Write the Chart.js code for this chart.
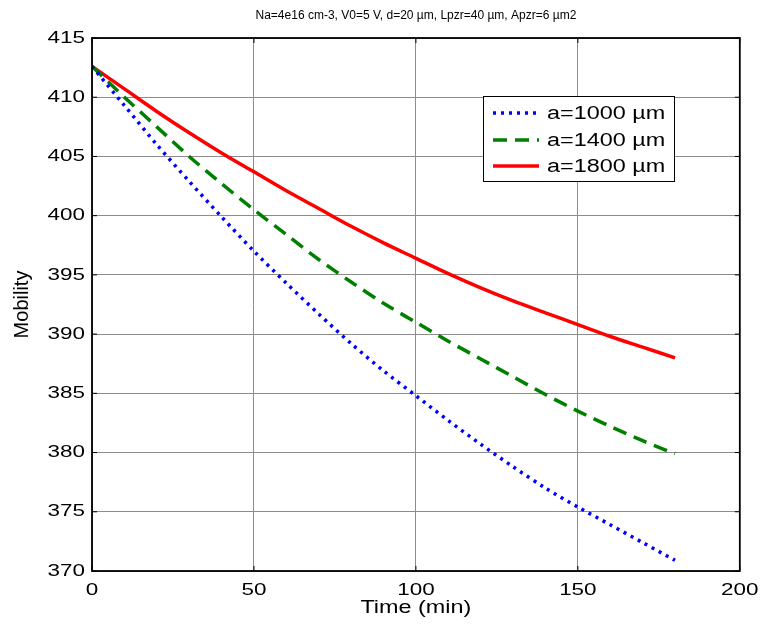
<!DOCTYPE html>
<html>
<head>
<meta charset="utf-8">
<script src="https://cdn.jsdelivr.net/npm/chart.js@4"></script>
<style>
html,body{margin:0;padding:0;background:#fff;}
canvas{display:block;}
</style>
</head>
<body>
<canvas id="c" width="763" height="625"></canvas>
<script>
const titleText = "Na=4e16 cm-3, V0=5 V, d=20 \u00b5m, Lpzr=40 \u00b5m, Apzr=6 \u00b5m2";
const timeMin = [0,10,20,30,40,50,60,70,80,90,100,110,120,130,140,150,160,170,180];
const mob1000 = [412.6,409.3,406.0,402.9,399.9,397.0,394.3,391.7,389.2,386.9,384.8,382.7,380.7,378.8,377.0,375.4,373.9,372.4,370.9];
const mob1400 = [412.6,410.0,407.5,405.0,402.7,400.5,398.4,396.3,394.4,392.6,391.0,389.4,387.9,386.4,384.9,383.5,382.2,381.0,379.9];
const mob1800 = [412.6,410.7,408.8,407.0,405.3,403.7,402.1,400.6,399.1,397.7,396.4,395.1,393.9,392.8,391.8,390.8,389.8,388.9,388.0];
const seriesLabels = ["a=1000 \u00b5m","a=1400 \u00b5m","a=1800 \u00b5m"];
const xTicks = [0,50,100,150,200];
const yTicks = [370,375,380,385,390,395,400,405,410,415];

const FONT = "'Liberation Sans', Arial, sans-serif";
function pts(ys){ return timeMin.map((x,i)=>({x:x,y:ys[i]})); }

// horizontal stretch of text, keyed by font size (mimics the reference's wide glyphs)
const STRETCH = {'17px':1.32, '18px':1.3};
const stretchText = {
  id:'stretchText',
  beforeInit(chart){
    const ctx = chart.ctx;
    if (ctx.__patched) return;
    const orig = ctx.fillText.bind(ctx);
    ctx.__orig = orig;
    ctx.fillText = function(text, x, y){
      const m = /(\d+)px/.exec(ctx.font);
      const k = m ? (STRETCH[m[1]+'px'] || 1) : 1;
      if (k === 1) return orig(text, x, y);
      ctx.save();
      ctx.translate(x, y);
      ctx.scale(k, 1);
      orig(text, 0, 0);
      ctx.restore();
    };
    ctx.__patched = true;
  }
};

const frame = {
  id:'frame',
  afterDatasetsDraw(chart){
    const {ctx, chartArea:a, scales} = chart;
    ctx.save();
    ctx.strokeStyle = '#000';
    ctx.lineWidth = 1.8;
    ctx.strokeRect(a.left, a.top, a.right-a.left, a.bottom-a.top);
    ctx.lineWidth = 1;
    const tl = 5;
    xTicks.forEach(v=>{
      const x = scales.x.getPixelForValue(v);
      ctx.beginPath();
      ctx.moveTo(x,a.bottom); ctx.lineTo(x,a.bottom-tl);
      ctx.moveTo(x,a.top); ctx.lineTo(x,a.top+tl);
      ctx.stroke();
    });
    yTicks.forEach(v=>{
      const y = scales.y.getPixelForValue(v);
      ctx.beginPath();
      ctx.moveTo(a.left,y); ctx.lineTo(a.left+tl,y);
      ctx.moveTo(a.right,y); ctx.lineTo(a.right-tl,y);
      ctx.stroke();
    });
    // title
    ctx.fillStyle = '#000';
    ctx.font = "12px " + FONT;
    ctx.textAlign = 'center';
    ctx.textBaseline = 'middle';
    ctx.fillText(titleText, (a.left+a.right)/2, 16);
    // legend
    const bx = 483, by = 96, bw = 191, bh = 85;
    ctx.fillStyle = '#fff';
    ctx.fillRect(bx,by,bw,bh);
    ctx.strokeStyle = '#000';
    ctx.lineWidth = 1;
    ctx.strokeRect(bx+0.5,by+0.5,bw,bh);
    const rows = [113,140,166];
    chart.data.datasets.forEach((ds,i)=>{
      const y = rows[i];
      ctx.save();
      ctx.strokeStyle = ds.borderColor;
      ctx.lineWidth = ds.borderWidth;
      ctx.setLineDash(ds.borderDash || []);
      ctx.beginPath();
      ctx.moveTo(493,y); ctx.lineTo(539,y);
      ctx.stroke();
      ctx.restore();
      ctx.fillStyle = '#000';
      ctx.font = "18px " + FONT;
      ctx.textAlign = 'left';
      ctx.textBaseline = 'middle';
      ctx.fillText(ds.label, 547, y+1);
    });
    ctx.restore();
  }
};

new Chart(document.getElementById('c'), {
  type:'line',
  data:{
    datasets:[
      {label:seriesLabels[0], data:pts(mob1000), borderColor:'#0000ff', borderWidth:3.5, borderDash:[3,5], pointRadius:0, fill:false, tension:0.3},
      {label:seriesLabels[1], data:pts(mob1400), borderColor:'#008000', borderWidth:3.5, borderDash:[14,8], pointRadius:0, fill:false, tension:0.3},
      {label:seriesLabels[2], data:pts(mob1800), borderColor:'#ff0000', borderWidth:3.5, pointRadius:0, fill:false, tension:0.3}
    ]
  },
  options:{
    responsive:false,
    animation:false,
    layout:{padding:{top:38, right:23, left:0, bottom:0}},
    plugins:{legend:{display:false}, title:{display:false}, tooltip:{enabled:false}},
    scales:{
      x:{
        type:'linear', min:0, max:200,
        afterBuildTicks(s){ s.ticks = xTicks.map(v=>({value:v})); },
        afterFit(s){ s.height = 54; },
        grid:{color:'#8c8c8c', lineWidth:1, drawTicks:false},
        border:{display:false},
        ticks:{color:'#000', font:{family:FONT, size:17}, padding:9, maxRotation:0, autoSkip:false},
        title:{display:true, text:'Time (min)', color:'#000', font:{family:FONT, size:18}, padding:{top:0,bottom:6}}
      },
      y:{
        type:'linear', min:370, max:415,
        afterBuildTicks(s){ s.ticks = yTicks.map(v=>({value:v})); },
        afterFit(s){ s.width = 92; },
        grid:{color:'#8c8c8c', lineWidth:1, drawTicks:false},
        border:{display:false},
        ticks:{color:'#000', font:{family:FONT, size:17}, padding:7, autoSkip:false},
        title:{display:true, text:'Mobility', color:'#000', font:{family:FONT, size:20}, padding:{top:10,bottom:0}}
      }
    }
  },
  plugins:[stretchText, frame]
});
</script>
</body>
</html>
